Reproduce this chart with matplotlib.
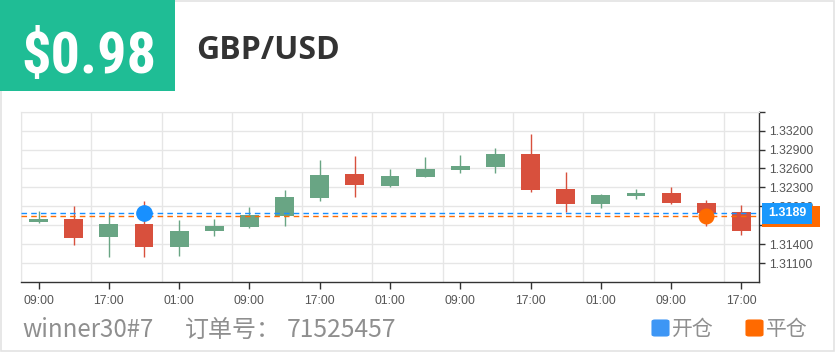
import numpy as np
import matplotlib
matplotlib.use("Agg")
import matplotlib.pyplot as plt
from matplotlib.patches import Rectangle, FancyBboxPatch
from matplotlib import font_manager

# ---------------- data ----------------
times = ["09:00", "13:00", "17:00", "21:00", "01:00", "05:00", "09:00",
         "13:00", "17:00", "21:00", "01:00", "05:00", "09:00", "13:00",
         "17:00", "21:00", "01:00", "05:00", "09:00", "13:00", "17:00"]
opens = [1.31744, 1.31803, 1.31507, 1.31719, 1.31349, 1.31602, 1.31668,
         1.31850, 1.32129, 1.32508, 1.32328, 1.32471, 1.32576, 1.32628,
         1.32824, 1.32276, 1.32034, 1.32166, 1.32218, 1.32060, 1.31908]
highs = [1.31918, 1.32008, 1.31908, 1.32087, 1.31776, 1.31803, 1.31997,
         1.32261, 1.32734, 1.32802, 1.32587, 1.32787, 1.32813, 1.32929,
         1.33145, 1.32540, 1.32193, 1.32276, 1.32303, 1.32103, 1.32013]
lows = [1.31730, 1.31392, 1.31198, 1.31192, 1.31208, 1.31523, 1.31660,
        1.31681, 1.32087, 1.32145, 1.32313, 1.32460, 1.32524, 1.32524,
        1.32234, 1.31908, 1.31971, 1.32113, 1.32040, 1.31681, 1.31550]
closes = [1.31798, 1.31503, 1.31713, 1.31349, 1.31613, 1.31681, 1.31866,
          1.32145, 1.32497, 1.32340, 1.32486, 1.32592, 1.32639, 1.32824,
          1.32261, 1.32034, 1.32182, 1.32218, 1.32050, 1.31892, 1.31602]
ytick_values = [1.311, 1.314, 1.317, 1.320, 1.323, 1.326, 1.329, 1.332, 1.335]
ytick_labels = ["1.31100", "1.31400", "", "1.32000", "1.32300", "1.32600",
                "1.32900", "1.33200", ""]
open_index, open_price = 3, 1.3189
close_index, close_price = 19, 1.3184
price_text = "$0.98"
symbol = "GBP/USD"
account = "winner30#7"
order_label = "订单号："
order_no = "71525457"
legend_labels = ["开仓", "平仓"]

# ---------------- style ----------------
UP = "#69a584"
DOWN = "#d8503d"
BLUE = "#1890ff"
ORANGE = "#ff6a00"
GRID = "#e6e6e6"
W, H = 840, 352

installed = {f.name for f in font_manager.fontManager.ttflist}
if "Roboto Condensed" in installed:
    big_family, big_size = ["Roboto Condensed"], 42
elif "Liberation Sans Narrow" in installed:
    big_family, big_size = ["Liberation Sans Narrow"], 41
else:
    big_family, big_size = ["Roboto", "DejaVu Sans"], 39.5

fig = plt.figure(figsize=(W / 100, H / 100), dpi=100)
fig.patch.set_facecolor("white")


def fx(px):
    return px / W


def fy(py):
    return 1 - py / H


# card border
fig.patches.append(Rectangle((fx(0.5), fy(350.5)), fx(833.5), (350) / H,
                             transform=fig.transFigure, facecolor="none",
                             edgecolor="#e3e3e3", lw=1.2, zorder=0))
# header green box
fig.patches.append(Rectangle((0, fy(90.7)), fx(175), 90.7 / H,
                             transform=fig.transFigure, facecolor="#1fbd95",
                             edgecolor="none", zorder=1))
fig.text(fx(21), fy(73.3), price_text, color="white", fontsize=big_size,
         fontweight="bold", family=big_family,
         ha="left", va="baseline", zorder=2)
fig.text(fx(196), fy(59.3), symbol, color="#333333", fontsize=23,
         fontweight="bold", family=["Open Sans", "DejaVu Sans"],
         ha="left", va="baseline")

# ---------------- chart ----------------
ax = fig.add_axes([fx(21), (H - 282) / H, (759 - 21) / W, (282 - 111.7) / H])
ax.set_xlim(-0.5, len(times) - 0.5)
ax.set_ylim(1.308, 1.335)
x = np.arange(len(times))

for i in x:
    o, hi, lo, c = opens[i], highs[i], lows[i], closes[i]
    col = UP if c >= o else DOWN
    ax.vlines(i, lo, hi, color=col, lw=1, zorder=3)
    ax.bar(i, abs(c - o), bottom=min(o, c), width=0.54, color=col, zorder=3)

# grid
for yv in ytick_values:
    ax.axhline(yv, color=GRID, lw=1, zorder=0)
for b in np.arange(-0.5, len(times) - 0.5, 2):
    ax.axvline(b, color=GRID, lw=1, zorder=0)

ax.axhline(open_price, color=BLUE, lw=1, ls=(0, (4, 3)), zorder=4)
ax.axhline(close_price, color=ORANGE, lw=1, ls=(0, (4, 3)), zorder=4)
ax.plot([open_index], [open_price], "o", ms=11, color=BLUE, zorder=6)
ax.plot([close_index], [close_price], "o", ms=10.5, color=ORANGE, zorder=6)

for s in ["top", "left"]:
    ax.spines[s].set_color(GRID)
for s in ["right", "bottom"]:
    ax.spines[s].set_color("#333333")
    ax.spines[s].set_linewidth(1)

ax.yaxis.tick_right()
ax.set_yticks(ytick_values)
ax.set_yticklabels(ytick_labels)
ax.set_xticks(x[::2])
ax.set_xticklabels(times[::2])
ax.tick_params(axis="y", length=4, width=1, color="#333333", labelcolor="#555555",
               labelsize=8.8, pad=3)
ax.tick_params(axis="x", length=5, width=1, color="#333333", labelcolor="#555555",
               labelsize=8.8, pad=4)
for lab in ax.get_xticklabels() + ax.get_yticklabels():
    lab.set_family(["Liberation Sans", "DejaVu Sans"])

# price tags on the right (orange tag sits beneath the blue one)
ytr = ax.get_yaxis_transform()
hbox = 21 * 0.027 / (282 - 111.7)
ax.add_patch(Rectangle((1.0041, close_price - hbox / 2), 58 / 738, hbox,
                       transform=ytr, facecolor=ORANGE, edgecolor="none",
                       clip_on=False, zorder=7))
ax.add_patch(Rectangle((1.0041, open_price - hbox / 2), 50 / 738, hbox,
                       transform=ytr, facecolor="#1a98fc", edgecolor="none",
                       clip_on=False, zorder=8))
ax.text(1.0041 + 25 / 738, open_price, f"{open_price:.4f}", transform=ytr,
        color="white", fontsize=9, fontweight="bold", ha="center", va="center",
        family=["Liberation Sans", "DejaVu Sans"], clip_on=False, zorder=9)

# ---------------- footer ----------------
cjk = ["Noto Sans CJK SC", "DejaVu Sans"]
fig.text(fx(22), fy(337), account, color="#8f8f8f", fontsize=17.3, family=cjk,
         ha="left", va="baseline")
fig.text(fx(185), fy(337), order_label, color="#8f8f8f", fontsize=17.3, family=cjk,
         ha="left", va="baseline")
fig.text(fx(287), fy(337), order_no, color="#8f8f8f", fontsize=17.8, family=cjk,
         ha="left", va="baseline")

for (x0, col, lab) in [(651, "#3d96f5", legend_labels[0]), (745, "#ff6a00", legend_labels[1])]:
    fig.patches.append(FancyBboxPatch((fx(x0 + 1.5), fy(337 - 1.5)), fx(16), 15 / H,
                                      boxstyle="round,pad=0,rounding_size=0.003",
                                      transform=fig.transFigure, facecolor=col,
                                      edgecolor=col, lw=1.5))
    fig.text(fx(x0 + 21), fy(335), lab, color="#8f8f8f", fontsize=15, family=cjk,
             ha="left", va="baseline")

fig.savefig("out.png", dpi=100)
